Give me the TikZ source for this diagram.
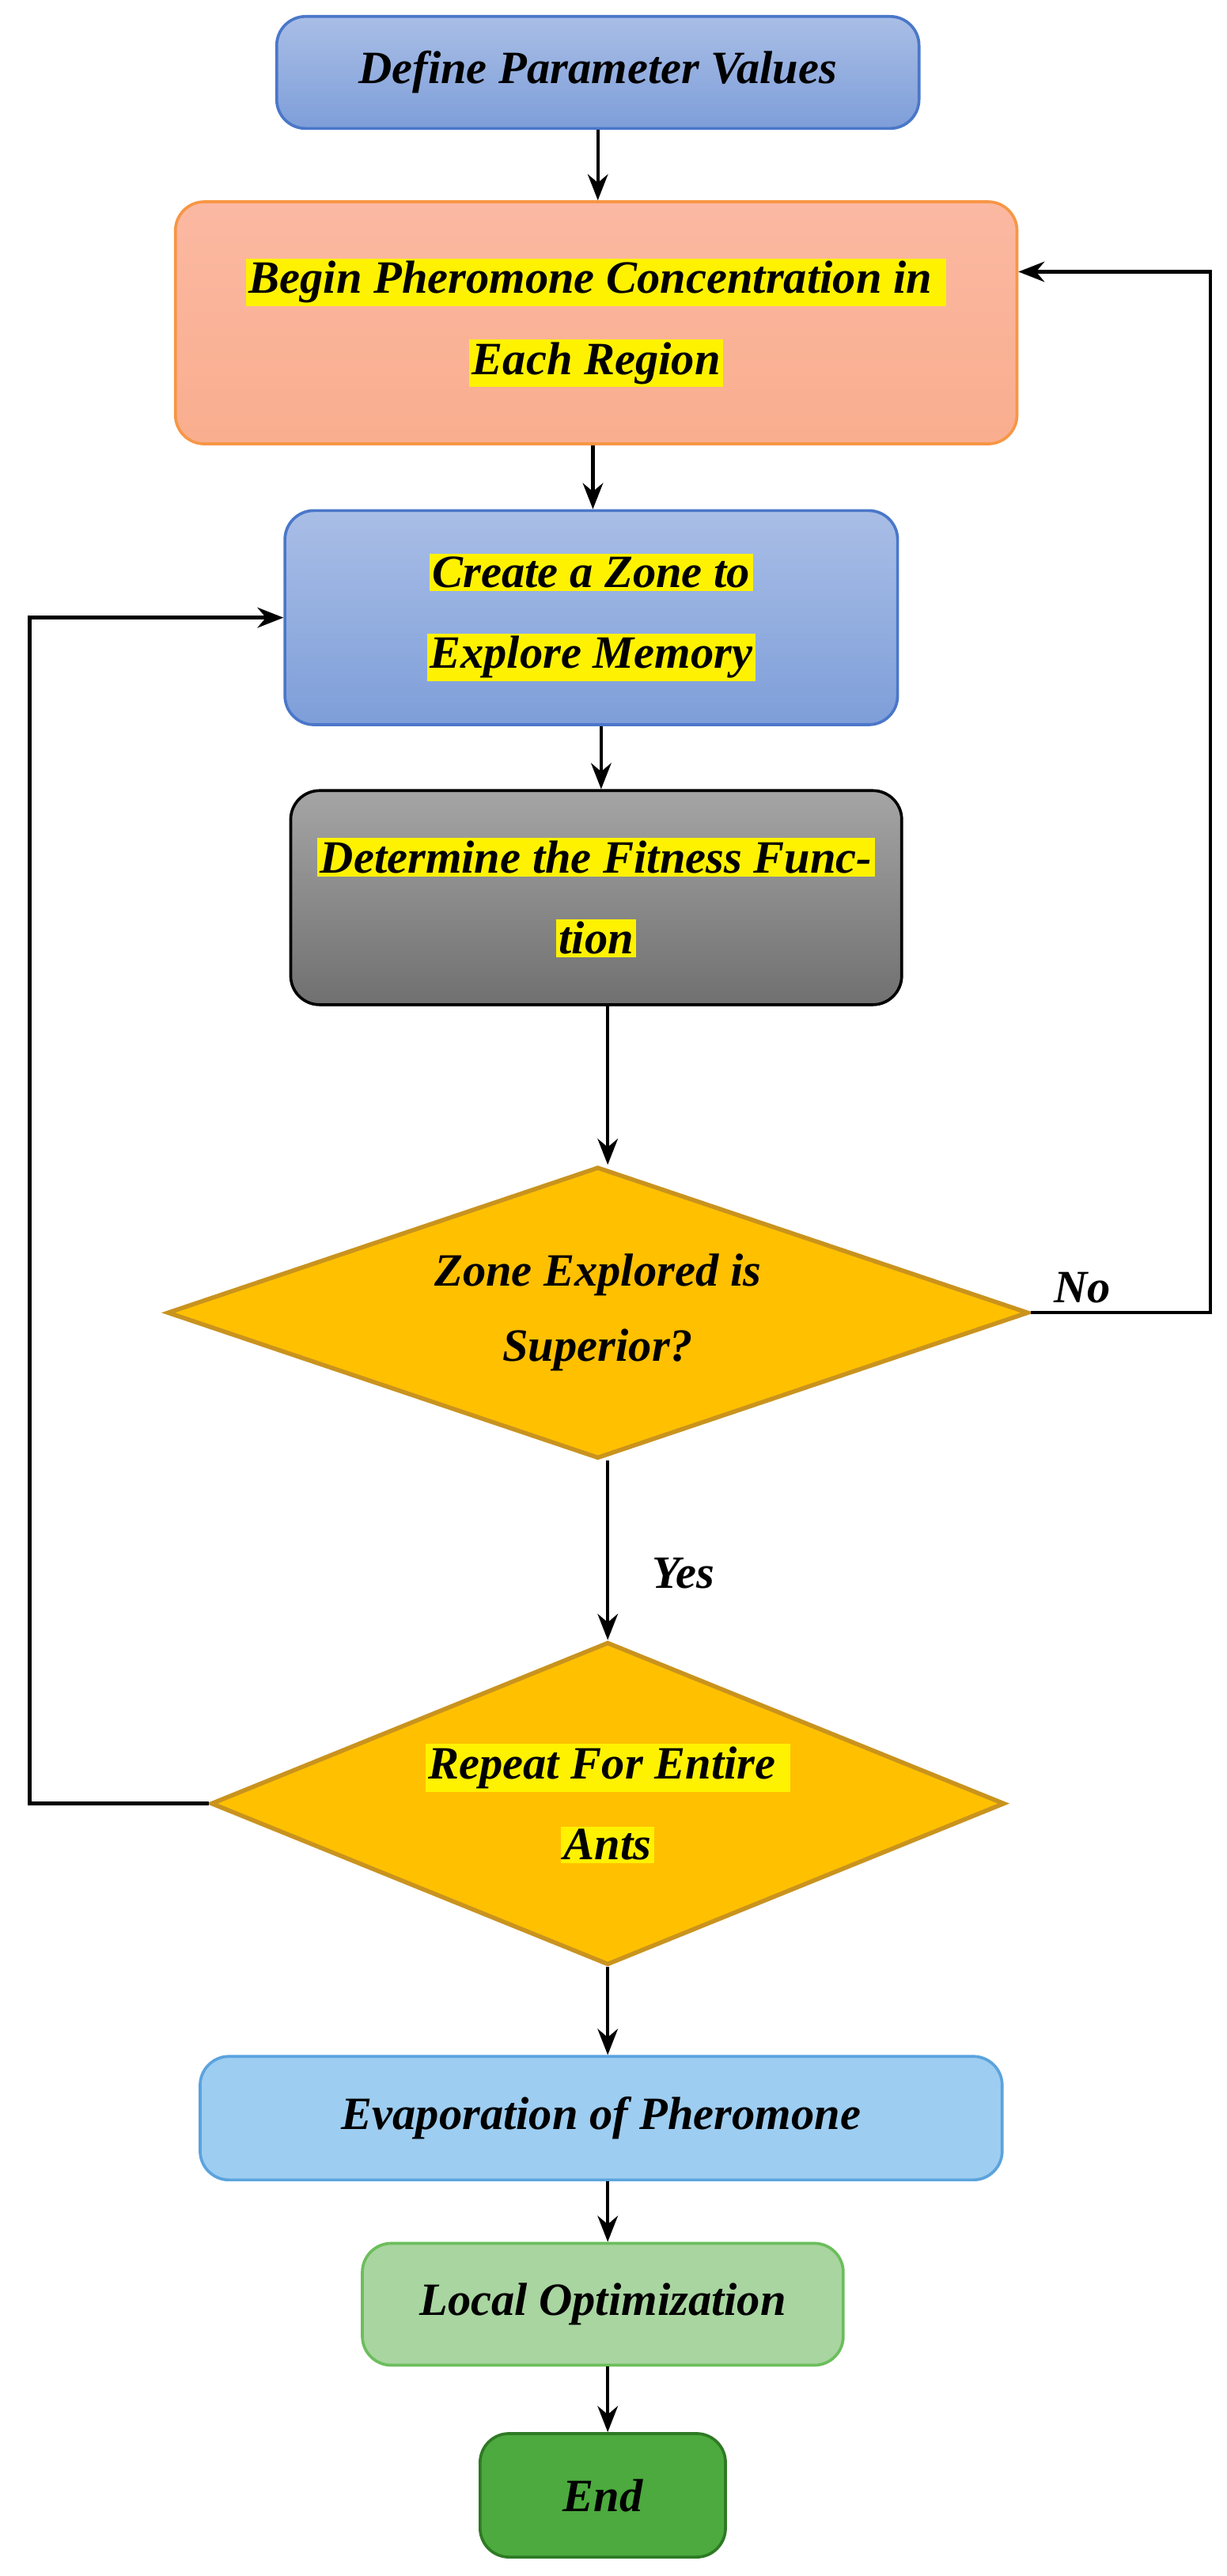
\documentclass[tikz,border=0pt]{standalone}
\usepackage{fontspec}
\setmainfont{Liberation Serif}
\usetikzlibrary{shapes.geometric,arrows.meta}
\definecolor{bt}{HTML}{A9BEE6}\definecolor{bb}{HTML}{7E9ED9}\definecolor{bd}{HTML}{4A77C9}
\definecolor{ot}{HTML}{FBB8A2}\definecolor{ob}{HTML}{F9AE8E}\definecolor{od}{HTML}{F79646}
\definecolor{gt}{HTML}{A5A5A5}\definecolor{gb}{HTML}{707070}
\definecolor{dy}{HTML}{FFC000}\definecolor{dd}{HTML}{C9931E}
\definecolor{ev}{HTML}{9DCDF0}\definecolor{evd}{HTML}{5BA3DE}
\definecolor{lo}{HTML}{A8D5A0}\definecolor{lod}{HTML}{6CBE5C}
\definecolor{en}{HTML}{4CAA3E}\definecolor{end}{HTML}{2E7A24}
\begin{document}
\begin{tikzpicture}[x=0.02cm,y=-0.02cm,
 box/.style={rounded corners=10pt,line width=1pt,font=\fontsize{16}{26}\selectfont\bfseries\itshape,align=center,inner sep=0pt},
 dia/.style={diamond,aspect=2.9,draw=dd,line width=1.5pt,fill=dy,font=\fontsize{16}{26}\selectfont\bfseries\itshape,align=center,inner sep=0pt},
 arr/.style={-{Stealth[length=9pt,width=7pt]},line width=1.2pt}]
\useasboundingbox (0,0) rectangle (745,1564);
\newcommand{\hy}[1]{{\setlength{\fboxsep}{1pt}\colorbox{yellow}{#1}}}
\node[box,draw=bd,top color=bt,bottom color=bb,minimum width=390*0.02cm,minimum height=68*0.02cm] (a) at (363,44) {Define Parameter Values};
\node[box,draw=od,top color=ot,bottom color=ob,minimum width=511*0.02cm,minimum height=147*0.02cm] (b) at (362,196) {\hy{Begin Pheromone Concentration in }\\[2pt]\hy{Each Region}};
\node[box,draw=bd,top color=bt,bottom color=bb,minimum width=372*0.02cm,minimum height=130*0.02cm] (c) at (359,375) {\hy{Create a Zone to}\\[2pt]\hy{Explore Memory}};
\node[box,draw=black,top color=gt,bottom color=gb,minimum width=371*0.02cm,minimum height=130*0.02cm] (d) at (362,545) {\hy{Determine the Fitness Func-}\\[2pt]\hy{tion}};
\node[dia,minimum width=523*0.02cm,minimum height=177*0.02cm] (e) at (363,797) {Zone Explored is\\Superior?};
\node[dia,minimum width=482*0.02cm,minimum height=196*0.02cm] (f) at (369,1095) {\hy{Repeat For Entire }\\[2pt]\hy{Ants}};
\node[box,draw=evd,fill=ev,minimum width=487*0.02cm,minimum height=75*0.02cm] (g) at (365,1286) {Evaporation of Pheromone};
\node[box,draw=lod,fill=lo,minimum width=292*0.02cm,minimum height=74*0.02cm] (h) at (366,1399) {Local Optimization};
\node[box,draw=end,fill=en,minimum width=149*0.02cm,minimum height=75*0.02cm] (i) at (366,1515) {End};
\coordinate (x1) at (363,0); \coordinate (x2) at (360,0); \coordinate (x3) at (365,0);
\coordinate (x4) at (369,0); \coordinate (x5) at (369,0);
\draw[arr] (a.south -| x1) -- (b.north -| x1);
\draw[arr] (b.south -| x2) -- (c.north -| x2);
\draw[arr] (c.south -| x3) -- (d.north -| x3);
\draw[arr] (d.south -| x4) -- (e.north -| x4);
\draw[arr] (e.south -| x5) -- (f.north -| x5);
\draw[arr] (f.south -| x5) -- (g.north -| x5);
\draw[arr] (g.south -| x5) -- (h.north -| x5);
\draw[arr] (h.south -| x5) -- (i.north -| x5);
\coordinate (n1) at (735,797); \coordinate (n2) at (735,165);
\draw[arr] (e.east) -- (n1) -- (n2) -- (b.east |- n2);
\coordinate (y1) at (18,1095); \coordinate (y2) at (18,375);
\draw[arr] (f.west) -- (y1) -- (y2) -- (c.west);
\node[font=\fontsize{16}{20}\selectfont\bfseries\itshape] (no) at (657,782) {No};
\node[font=\fontsize{16}{20}\selectfont\bfseries\itshape] (yes) at (415,955) {Yes};
\end{tikzpicture}
\end{document}
